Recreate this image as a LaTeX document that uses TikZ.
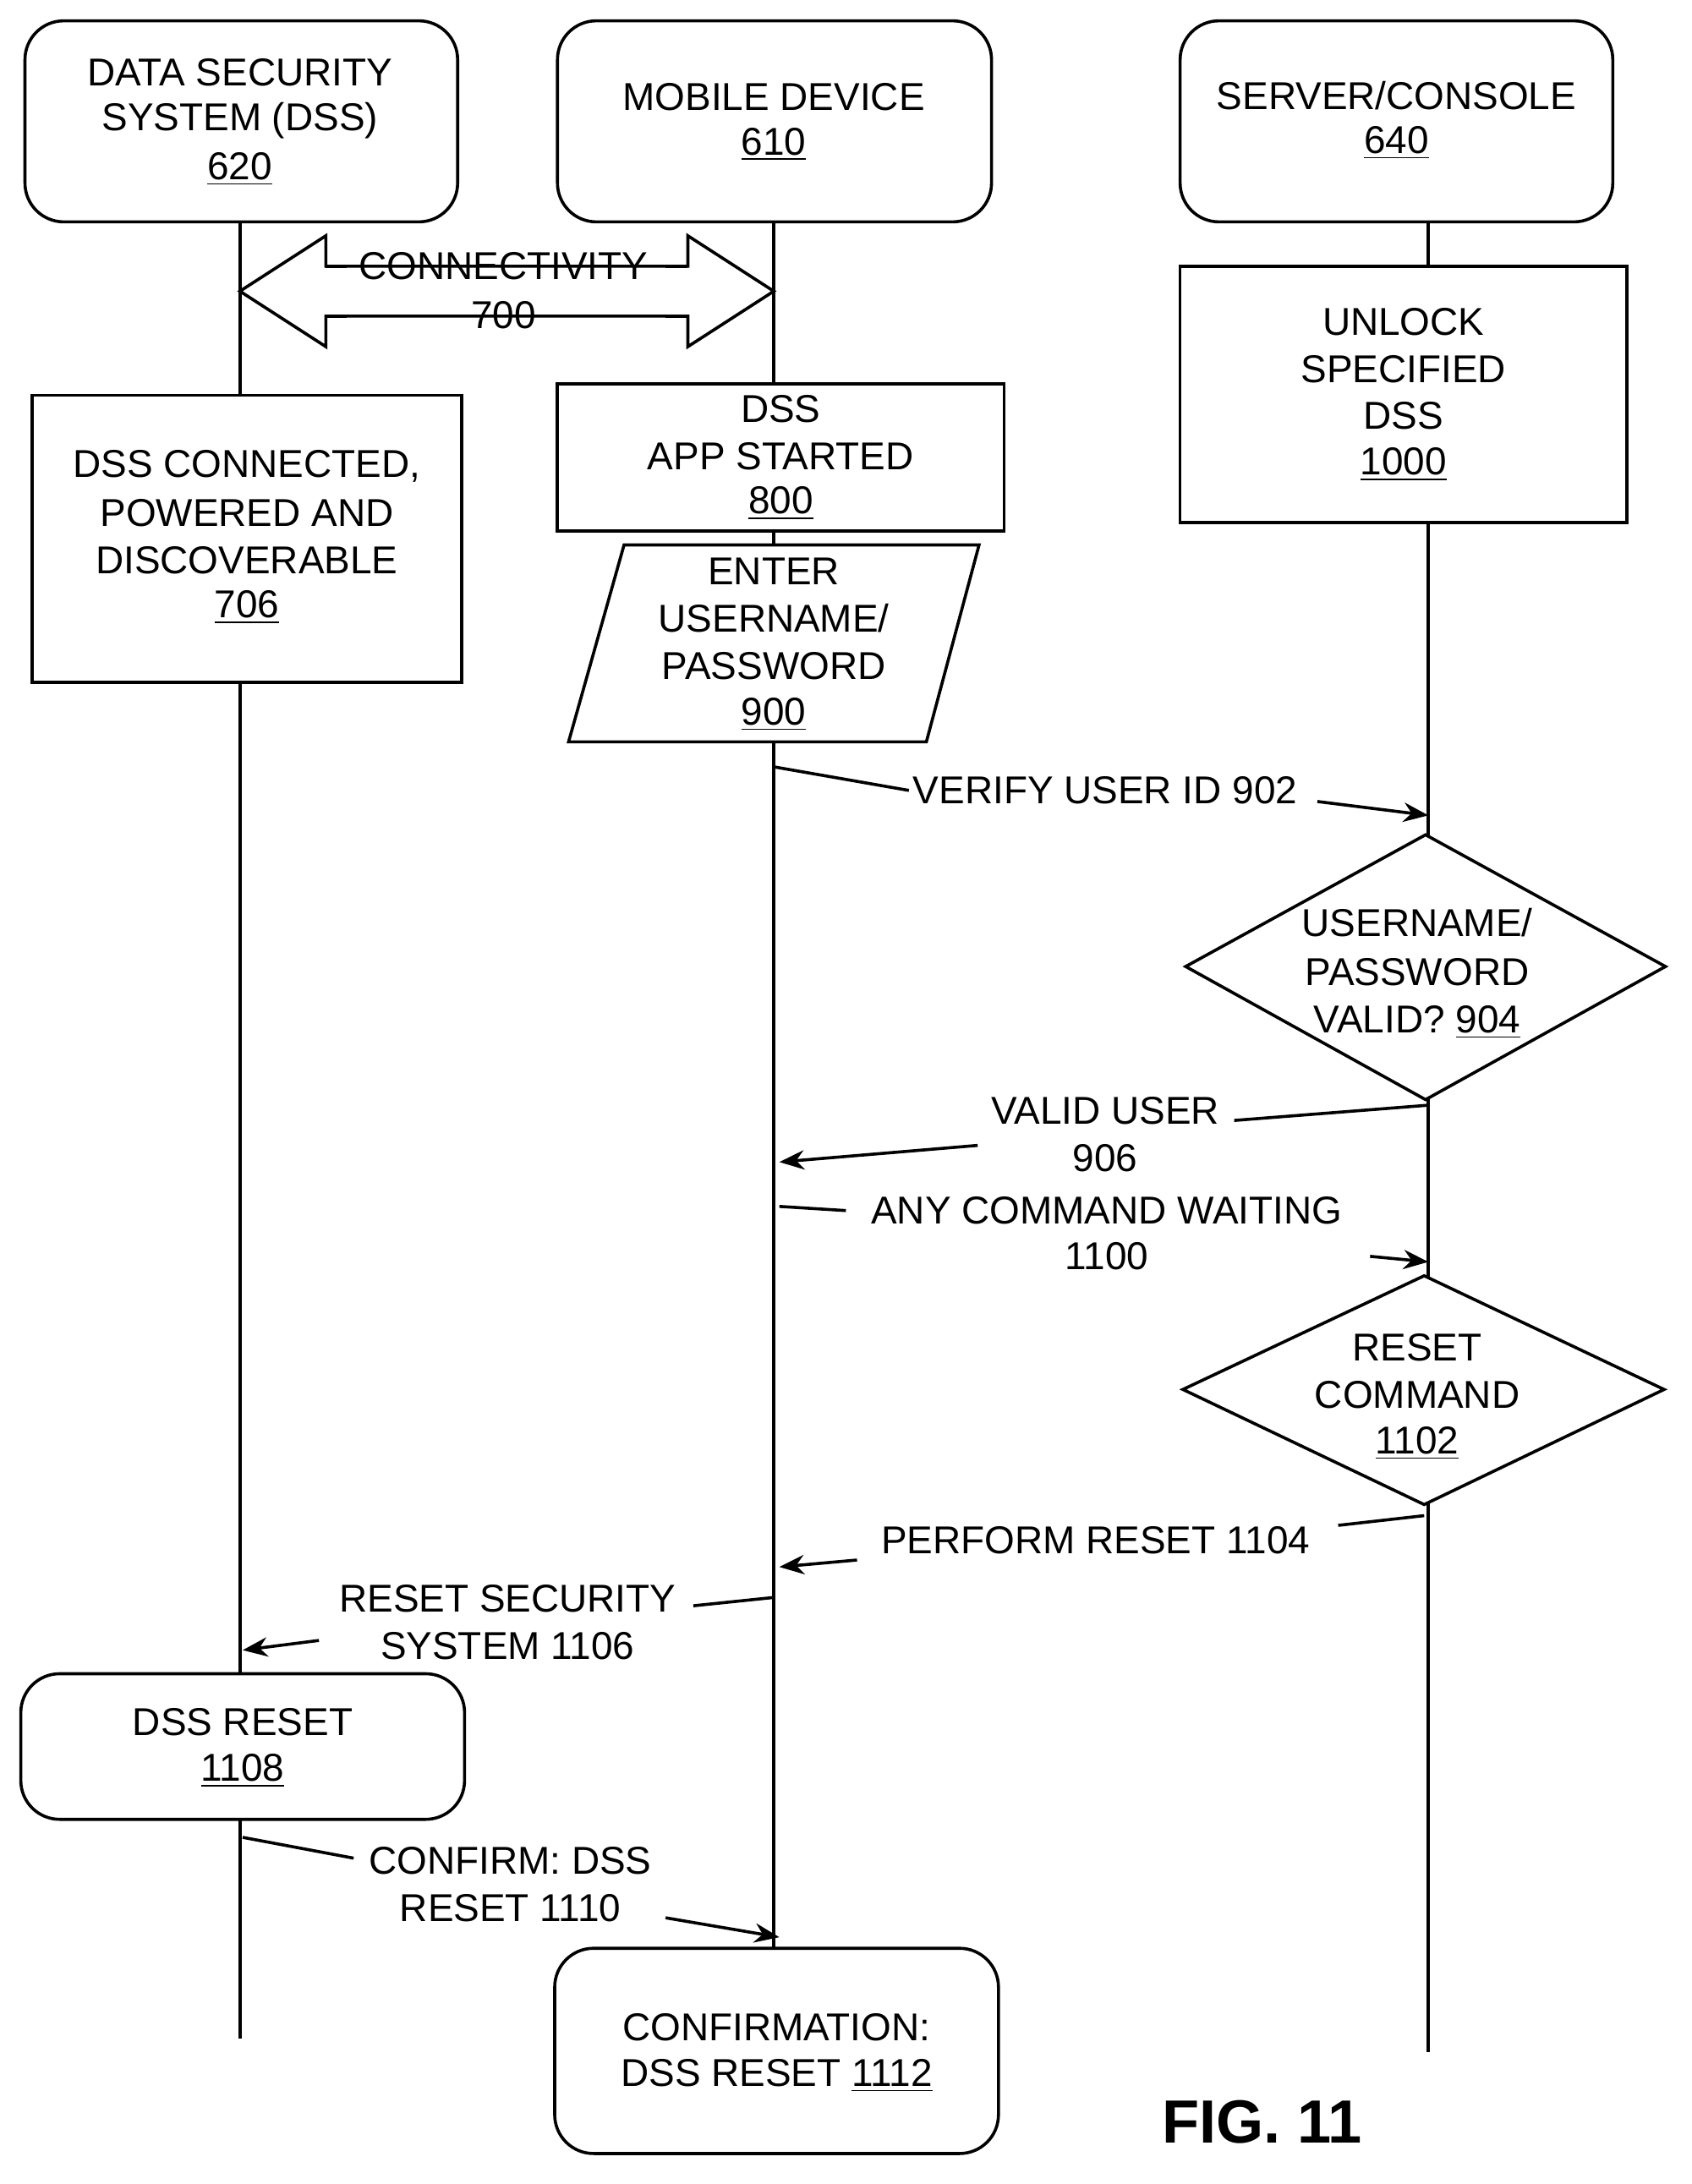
\documentclass[tikz,border=0pt]{standalone}
\usepackage{fontspec}
\setmainfont{Liberation Sans}
\usetikzlibrary{arrows.meta}
\begin{document}
\begin{tikzpicture}[x=0.5pt,y=-0.5pt,line width=1.1pt,
 t/.style={font=\fontsize{14}{17}\selectfont,inner sep=1pt,align=center},
 lb/.style={t,fill=white},
 ar/.style={-{Stealth[length=9pt,width=7pt]}},
 box/.style={draw}, rbox/.style={draw,rounded corners=14pt}]
\useasboundingbox (0,0) rectangle (1220,1575);
% lifelines
\coordinate (l1a) at (173,160); \coordinate (l1b) at (173,1470);
\coordinate (l2a) at (558,160); \coordinate (l2b) at (558,1405);
\coordinate (l3a) at (1030,160); \coordinate (l3b) at (1030,1480);
\draw (l1a)--(l1b); \draw (l2a)--(l2b); \draw (l3a)--(l3b);
% headers
\draw[rbox,fill=white] (18,15) rectangle (330,160);
\node[t] at (173,52) {DATA SECURITY}; \node[t] at (173,87) {SYSTEM (DSS)}; \node[t] at (173,122) {\underline{620}};
\draw[rbox,fill=white] (402,15) rectangle (715,160);
\node[t] at (558,70) {MOBILE DEVICE}; \node[t] at (558,104) {\underline{610}};
\draw[rbox,fill=white] (851,15) rectangle (1163,160);
\node[t] at (1007,69) {SERVER/CONSOLE}; \node[t] at (1007,103) {\underline{640}};
% connectivity
\draw[fill=white] (173,210)--(235,170)--(235,192)--(496,192)--(496,170)--(558,210)--(496,250)--(496,228)--(235,228)--(235,250)--cycle;
\fill[white] (236,193) rectangle (495,227);
\draw (235,192)--(250,192) (235,228)--(250,228) (480,192)--(496,192) (480,228)--(496,228);
\node[t] at (363,192) {CONNECTIVITY}; \node[t] at (363,227) {700};
% boxes
\draw[box,fill=white] (23,285) rectangle (333,492);
\node[t] at (178,336) {DSS CONNECTED,}; \node[t] at (178,370) {POWERED AND}; \node[t] at (178,404) {DISCOVERABLE}; \node[t] at (178,438) {\underline{706}};
\draw[box,fill=white] (402,277) rectangle (724,383);
\node[t] at (563,295) {DSS}; \node[t] at (563,329) {APP STARTED}; \node[t] at (563,363) {\underline{800}};
\draw[box,fill=white] (450,393)--(706,393)--(668,535)--(410,535)--cycle;
\node[t] at (558,412) {ENTER}; \node[t] at (558,446) {USERNAME/}; \node[t] at (558,480) {PASSWORD}; \node[t] at (558,515) {\underline{900}};
\draw[box,fill=white] (851,192) rectangle (1173,377);
\node[t] at (1012,232) {UNLOCK}; \node[t] at (1012,266) {SPECIFIED}; \node[t] at (1012,300) {DSS}; \node[t] at (1012,335) {\underline{1000}};
% verify
\node[lb] (v902) at (797,570) {VERIFY USER ID 902};
\draw (558,553)--(v902.west);
\draw[ar] (950,578)--(1030,588);
\draw[fill=white] (855,697)--(1028,602)--(1201,697)--(1028,793)--cycle;
\node[t] at (1022,665) {USERNAME/}; \node[t] at (1022,701) {PASSWORD}; \node[t] at (1022,737) {VALID? \underline{904}};
% valid user
\node[t] (v906) at (797,801) {VALID USER}; \node[t] at (797,835) {906};
\draw (1030,797)--(890,808);
\draw[ar] (705,826)--(562,838);
% any command
\node[t] (c1100) at (798,873) {ANY COMMAND WAITING}; \node[t] at (798,906) {1100};
\draw (562,870)--(610,873);
\draw[ar] (988,906)--(1030,910);
\draw[fill=white] (853,1002)--(1027,920)--(1200,1002)--(1027,1085)--cycle;
\node[t] at (1022,972) {RESET}; \node[t] at (1022,1006) {COMMAND}; \node[t] at (1022,1041) {\underline{1102}};
% perform reset
\node[t] at (790,1111) {PERFORM RESET 1104};
\draw (1027,1093)--(965,1100);
\draw[ar] (618,1125)--(562,1130);
% reset security
\node[t] at (366,1153) {RESET SECURITY}; \node[t] at (366,1187) {SYSTEM 1106};
\draw (558,1152)--(500,1158);
\draw[ar] (230,1183)--(175,1190);
\draw[rbox,fill=white] (15,1207) rectangle (335,1312);
\node[t] at (175,1242) {DSS RESET}; \node[t] at (175,1277) {\underline{1108}};
% confirm
\node[t] at (368,1342) {CONFIRM: DSS}; \node[t] at (368,1376) {RESET 1110};
\draw (175,1325)--(255,1340);
\draw[ar] (480,1383)--(562,1397);
\draw[rbox,fill=white] (400,1405) rectangle (720,1553);
\node[t] at (560,1462) {CONFIRMATION:}; \node[t] at (560,1497) {DSS RESET \underline{1112}};
\node[t,font=\fontsize{22}{26}\selectfont\bfseries] at (910,1530) {FIG. 11};
\end{tikzpicture}
\end{document}
